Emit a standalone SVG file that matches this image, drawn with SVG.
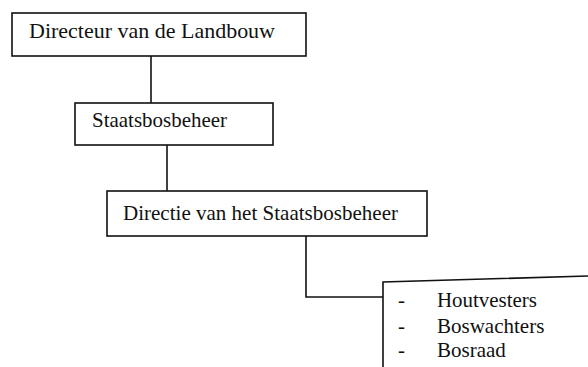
<svg xmlns="http://www.w3.org/2000/svg" width="588" height="367" viewBox="0 0 588 367">
<style>
.box{fill:#fff;stroke:#111;stroke-width:1.6}
.ln{fill:none;stroke:#111;stroke-width:1.6}
text{font-family:"Liberation Serif","Times New Roman",serif;font-size:21px;fill:#111}
</style>
<rect width="588" height="367" fill="#fff"/>
<g id="connectors">
<path class="ln" d="M151 56V103"/>
<path class="ln" d="M167 145V192"/>
<path class="ln" d="M306 236V297H383"/>
</g>
<g id="n1"><rect class="box" x="12" y="13" width="294" height="43"/><text x="29" y="38" textLength="246" lengthAdjust="spacingAndGlyphs">Directeur van de Landbouw</text></g>
<g id="n2"><rect class="box" x="75" y="103" width="198" height="42"/><text x="92" y="127" textLength="135" lengthAdjust="spacingAndGlyphs">Staatsbosbeheer</text></g>
<g id="n3"><rect class="box" x="107" y="191" width="320" height="45"/><text x="123" y="220" textLength="275" lengthAdjust="spacingAndGlyphs">Directie van het Staatsbosbeheer</text></g>
<g id="n4"><path class="ln" d="M383 367V282L588 276"/>
<text x="398" y="307">-</text><text x="437" y="307" textLength="100" lengthAdjust="spacingAndGlyphs">Houtvesters</text>
<text x="398" y="333">-</text><text x="437" y="333">Boswachters</text>
<text x="398" y="357">-</text><text x="437" y="357">Bosraad</text></g>
</svg>
